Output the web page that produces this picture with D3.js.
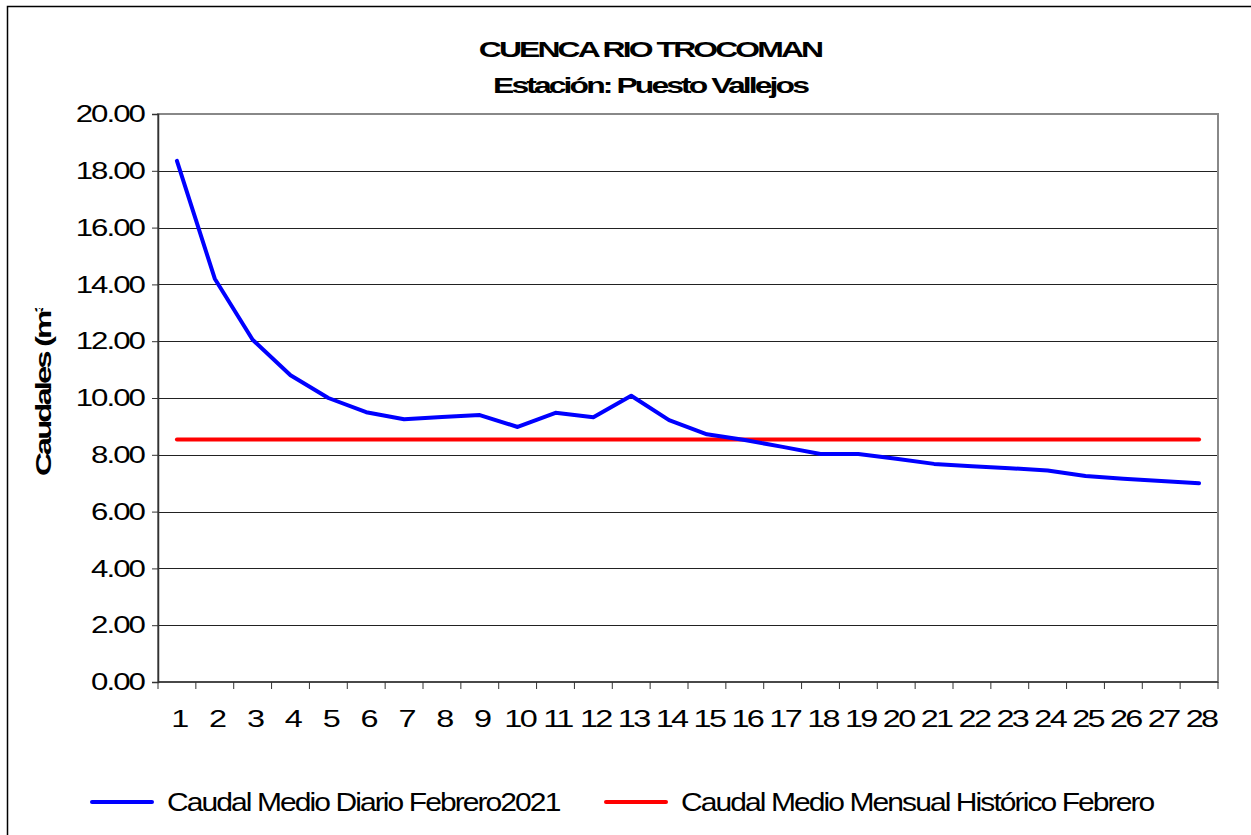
<!DOCTYPE html>
<html>
<head>
<meta charset="utf-8">
<script src="https://cdn.jsdelivr.net/npm/d3@7"></script>
<style>
  body { margin: 0; background: #fff; }
  text { font-family: "Liberation Sans", Arial, sans-serif; }
</style>
</head>
<body>
<div id="chart"></div>
<script>
// dias de febrero y caudales
var dias = d3.range(1, 29).map(String);
var caudalDiario = [18.35, 14.2, 12.05, 10.8, 10.0, 9.5, 9.25, 9.33, 9.4, 8.98, 9.48, 9.32, 10.08, 9.22, 8.72, 8.52, 8.28, 8.03, 8.03, 7.86, 7.68, 7.6, 7.53, 7.45, 7.25, 7.16, 7.08, 7.0];
var caudalHistorico = dias.map(function(){ return 8.54; });
var yTicks = [0, 2, 4, 6, 8, 10, 12, 14, 16, 18, 20];
var titulo = ["CUENCA RIO TROCOMAN", "Estación: Puesto Vallejos"];
var leyenda = ["Caudal Medio Diario Febrero2021", "Caudal Medio Mensual Histórico Febrero"];

var W = 1251, H = 835;
var margin = {left: 158, right: 33, top: 114, bottom: 153};
var iw = W - margin.left - margin.right, ih = H - margin.top - margin.bottom;

// el original tiene el texto ensanchado horizontalmente
function ensanchar(sel, f){
    sel.each(function(){
        var L = this.getComputedTextLength();
        d3.select(this).attr('textLength', L * f).attr('lengthAdjust', 'spacingAndGlyphs');
    });
}

var svg = d3.select('#chart').append('svg').attr('width', W).attr('height', H);

// marco exterior
svg.append('rect').attr('x', 7.5).attr('y', 6.5).attr('width', W).attr('height', H)
    .attr('fill', 'none').attr('stroke', '#000').attr('stroke-width', 1.5);

var x = d3.scaleBand().domain(dias).range([0, iw]);
var y = d3.scaleLinear().domain([0, 20]).range([ih, 0]);

var g = svg.append('g').attr('transform', 'translate(' + margin.left + ',' + margin.top + ')');

// grid
g.selectAll('line.grid').data(yTicks.filter(function(d){ return d > 0 && d < 20; }))
    .enter().append('line').attr('class', 'grid')
    .attr('x1', 0).attr('x2', iw)
    .attr('y1', function(d){ return Math.round(y(d)) + 0.5; })
    .attr('y2', function(d){ return Math.round(y(d)) + 0.5; })
    .attr('stroke', '#222').attr('stroke-width', 1);

// borde del area de trazado
g.append('rect').attr('x', 0).attr('y', 0).attr('width', iw).attr('height', ih)
    .attr('fill', 'none').attr('stroke', '#888').attr('stroke-width', 2);

// eje y
var yAxis = d3.axisLeft(y).tickValues(yTicks).tickSize(6).tickPadding(8)
    .tickFormat(function(d){ return d3.format('.2f')(d); });
var gy = g.append('g').call(yAxis);
gy.select('.domain').attr('stroke', '#333').attr('stroke-width', 1.5);
gy.selectAll('.tick line').attr('stroke', '#333');
gy.selectAll('.tick text').attr('font-size', 24).attr('fill', '#000')
    .style('letter-spacing', '-1.5px').attr('font-family', '"Liberation Sans", Arial, sans-serif')
    .call(ensanchar, 1.3);

// eje x con marcas en los limites de cada categoria
var gx = g.append('g').attr('transform', 'translate(0,' + ih + ')');
gx.append('line').attr('x1', 0).attr('x2', iw).attr('stroke', '#333').attr('stroke-width', 1.5);
var limites = dias.map(function(d){ return x(d); }).concat([iw]);
gx.selectAll('line.tk').data(limites).enter().append('line').attr('class', 'tk')
    .attr('x1', function(d){ return d; }).attr('x2', function(d){ return d; })
    .attr('y1', 0).attr('y2', 7).attr('stroke', '#333');
gx.selectAll('text').data(dias).enter().append('text')
    .attr('x', function(d){ return x(d) + x.bandwidth() / 2 + 2; })
    .attr('y', 45)
    .attr('text-anchor', 'middle').attr('font-size', 24)
    .style('letter-spacing', '-2px')
    .text(function(d){ return d; })
    .call(ensanchar, 1.35);

// lineas
var linea = d3.line()
    .x(function(d, i){ return x(dias[i]) + x.bandwidth() / 2; })
    .y(function(d){ return y(d); });

g.append('path').datum(caudalHistorico).attr('d', linea)
    .attr('fill', 'none').attr('stroke', '#ff0000').attr('stroke-width', 4).attr('stroke-linecap', 'round');
g.append('path').datum(caudalDiario).attr('d', linea)
    .attr('fill', 'none').attr('stroke', '#0000ff').attr('stroke-width', 4)
    .attr('stroke-linejoin', 'round').attr('stroke-linecap', 'round');

// titulo
svg.selectAll('text.titulo').data(titulo).enter().append('text').attr('class', 'titulo')
    .attr('x', 650).attr('y', function(d, i){ return 57 + i * 36; })
    .attr('text-anchor', 'middle').attr('font-size', 22).attr('font-weight', 'bold')
    .style('letter-spacing', '-2px')
    .text(function(d){ return d; })
    .call(ensanchar, 1.45);

// titulo eje y (recortado como en el original)
svg.append('clipPath').attr('id', 'clipY').append('rect')
    .attr('x', 0).attr('y', 308).attr('width', 100).attr('height', 300);
svg.append('g').attr('clip-path', 'url(#clipY)')
    .append('text')
    .attr('transform', 'translate(51,476) rotate(-90)')
    .attr('font-size', 22).attr('font-weight', 'bold')
    .style('letter-spacing', '-2px')
    .text('Caudales (m³/s)')
    .call(ensanchar, 1.5);

// leyenda
var legItems = [
    {txt: leyenda[0], color: '#0000ff', x0: 92},
    {txt: leyenda[1], color: '#ff0000', x0: 606}
];
var leg = svg.selectAll('g.leg').data(legItems).enter().append('g').attr('class', 'leg')
    .attr('transform', function(d){ return 'translate(' + d.x0 + ',802)'; });
leg.append('line').attr('x1', 0).attr('x2', 60)
    .attr('stroke', function(d){ return d.color; }).attr('stroke-width', 4).attr('stroke-linecap', 'round');
leg.append('text').attr('x', 75).attr('y', 9).attr('font-size', 25)
    .style('letter-spacing', '-1.6px')
    .text(function(d){ return d.txt; })
    .call(ensanchar, 1.2);
</script>
</body>
</html>
